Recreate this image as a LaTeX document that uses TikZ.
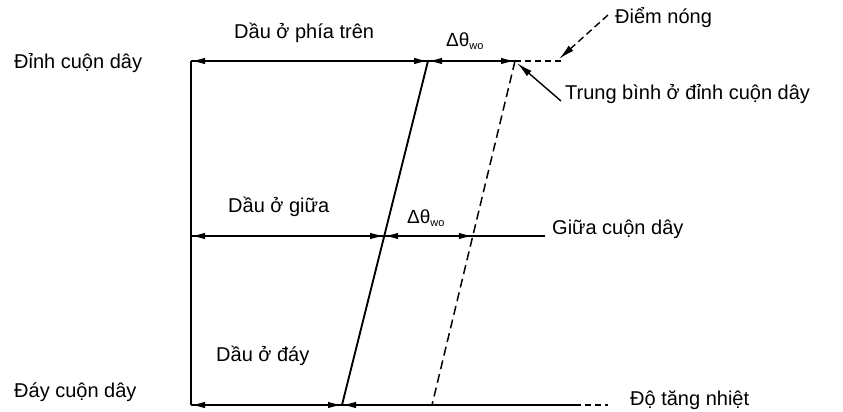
\documentclass[tikz,border=0pt]{standalone}
\usepackage{fontspec}
\setmainfont{Liberation Sans}
\usetikzlibrary{arrows.meta}
\begin{document}
\begin{tikzpicture}[x=1pt,y=-1pt,
  lbl/.style={anchor=west,inner sep=0pt,font=\fontsize{20}{24}\selectfont},
  dlbl/.style={anchor=west,inner sep=0pt,font=\fontsize{19}{22}\selectfont},
  ln/.style={line width=1.6pt},
  thin/.style={line width=1.2pt},
  dim/.style={line width=1.3pt,{Latex[length=14pt,width=6.5pt]}-{Latex[length=14pt,width=6.5pt]}},
  onetip/.style={line width=1.3pt,-{Latex[length=14pt,width=6.5pt]}},
  lead/.style={line width=1.4pt,-{Latex[length=16pt,width=7pt]}}]
\useasboundingbox (0,0) rectangle (843,412);
% key points
\coordinate (TL) at (191,61);
\coordinate (BL) at (191,405);
\coordinate (ML) at (191,236);
\coordinate (A1) at (428,61);
\coordinate (A2) at (342,405);
\coordinate (B1) at (515,61);
\coordinate (B2) at (432,405);
\coordinate (M1) at (384.2,236);
\coordinate (M2) at (472.8,236);
\coordinate (TE) at (563,61);
\coordinate (ME) at (545,236);
\coordinate (BS) at (575,405);
\coordinate (BE) at (608,405);
\coordinate (HS) at (608,15);
\coordinate (HT) at (559,59);
\coordinate (AS) at (561,101);
\coordinate (AT) at (517,63);
% frame lines
\draw[ln] (TL) -- (BL);
\draw[thin] (TL) -- (B1);
\draw[thin,dash pattern=on 6pt off 4pt] (B1) -- (TE);
\draw[thin] (ML) -- (ME);
\draw[thin] (BL) -- (BS);
\draw[thin,dash pattern=on 6pt off 4pt] (BS) -- (BE);
% slanted lines
\draw[line width=1.9pt] (A1) -- (A2);
\draw[line width=1.5pt,dash pattern=on 9pt off 5pt] (B1) -- (B2);
% dimension arrows
\draw[dim] (TL) -- (A1);
\draw[dim] (A1) -- (B1);
\draw[dim] (ML) -- (M1);
\draw[dim] (M1) -- (M2);
\draw[dim] (BL) -- (A2);
\draw[onetip] (B2) -- (A2);
% leaders
\draw[lead,dash pattern=on 7pt off 4pt] (HS) -- (HT);
\draw[lead] (AS) -- (AT);
% labels
\node[lbl] (top) at (14,63) {Đỉnh cuộn dây};
\node[lbl] (bot) at (14,392) {Đáy cuộn dây};
\node[lbl] (oiltop) at (234,33) {Dầu ở phía trên};
\node[lbl] (oilmid) at (228,207) {Dầu ở giữa};
\node[lbl] (oilbot) at (216,356) {Dầu ở đáy};
\node[lbl] (hot) at (615,18) {Điểm nóng};
\node[lbl] (avg) at (565,94) {Trung bình ở đỉnh cuộn dây};
\node[lbl] (mid) at (552,229) {Giữa cuộn dây};
\node[lbl] (rise) at (630,400) {Độ tăng nhiệt};
\node[dlbl] (dtop) at (446,41) {Δθ\raisebox{-0.35ex}{\fontsize{11}{13}\selectfont wo}};
\node[dlbl] (dmid) at (407,218) {Δθ\raisebox{-0.35ex}{\fontsize{11}{13}\selectfont wo}};
\end{tikzpicture}
\end{document}
